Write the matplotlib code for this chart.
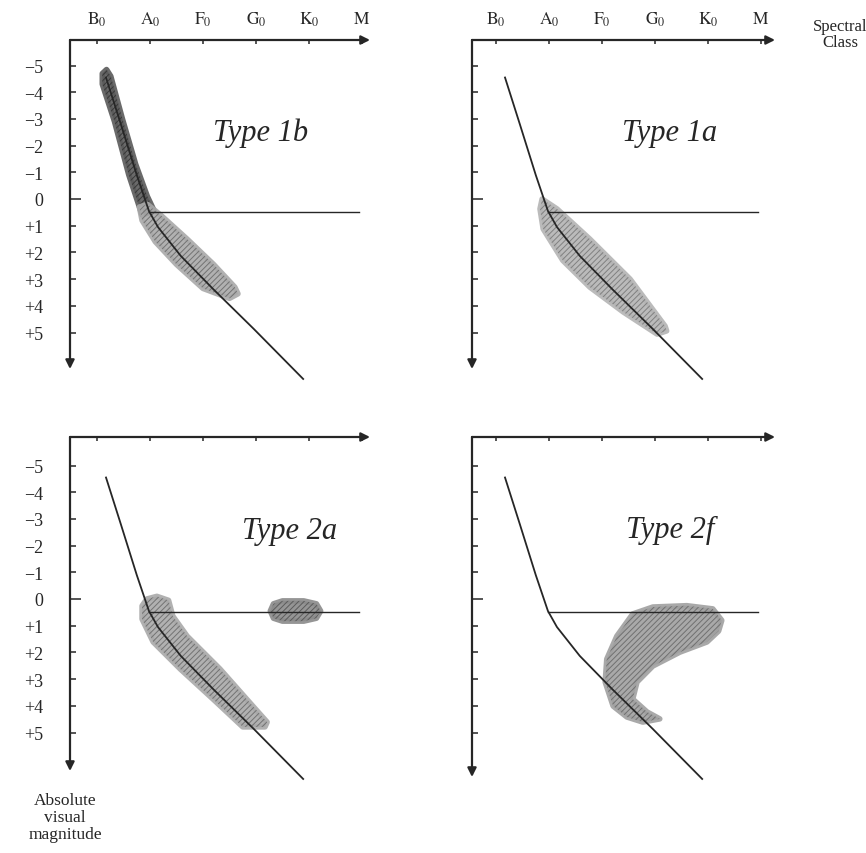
import matplotlib.pyplot as plt
from matplotlib.patches import Polygon

plt.rcParams['font.family'] = ['Liberation Serif', 'DejaVu Serif']
plt.rcParams['mathtext.fontset'] = 'stix'
plt.rcParams['hatch.linewidth'] = 0.7

INK = '#262626'

# spectral classes along the top axis
CLASS_POS = [0, 1, 2, 3, 4, 5]
CLASS_LABELS = [r'$\mathrm{B_0}$', r'$\mathrm{A_0}$', r'$\mathrm{F_0}$',
                r'$\mathrm{G_0}$', r'$\mathrm{K_0}$', r'$\mathrm{M}$']

# absolute visual magnitude
MAG_TICKS = [-5, -4, -3, -2, -1, 1, 2, 3, 4, 5]
MAG_LABELS = ['\u22125', '\u22124', '\u22123', '\u22122', '\u22121',
              '+1', '+2', '+3', '+4', '+5']

# main sequence and giant branch
MS_X = [0.17, 0.45, 0.75, 0.98, 1.15, 1.58, 2.19, 2.96, 3.89]
MS_M = [-4.55, -2.8, -0.9, 0.45, 1.05, 2.13, 3.37, 4.87, 6.74]
GIANT_X = [0.98, 4.95]
GIANT_M = [0.5, 0.5]

# type 1b: dense upper branch plus band below the knee
UPPER_1B_X = [0.26, 0.48, 0.73, 0.95, 1.08, 0.85, 0.60, 0.33, 0.10, 0.10, 0.18]
UPPER_1B_M = [-4.6, -3.0, -1.3, -0.1, 0.45, 0.60, -0.9, -2.9, -4.3, -4.7, -4.85]
BAND_1B_X = [0.95, 1.20, 1.70, 2.20, 2.60, 2.66, 2.50, 2.00, 1.50, 1.10, 0.85, 0.80]
BAND_1B_M = [0.20, 0.60, 1.50, 2.45, 3.30, 3.55, 3.72, 3.35, 2.45, 1.60, 0.80, 0.30]

# type 1a: band along the lower main sequence
BAND_1A_X = [0.87, 1.15, 1.77, 2.53, 3.19, 3.22, 3.04, 2.40, 1.77, 1.26, 0.89, 0.83]
BAND_1A_M = [0.00, 0.37, 1.50, 3.00, 4.76, 4.94, 5.06, 4.23, 3.30, 2.30, 1.12, 0.37]

# type 2a: band with a clump at the knee, and a clump on the giant branch
BAND_2A_X = [0.94, 1.13, 1.35, 1.43, 1.70, 2.32, 2.94, 3.21, 3.17, 2.75, 2.19, 1.57, 1.06, 0.85, 0.85]
BAND_2A_M = [0.00, -0.10, 0.05, 0.64, 1.39, 2.62, 4.01, 4.61, 4.79, 4.79, 3.75, 2.62, 1.61, 0.75, 0.26]
CLUMP_2A_X = [3.27, 3.33, 3.50, 3.90, 4.14, 4.22, 4.14, 3.90, 3.50, 3.33]
CLUMP_2A_M = [0.45, 0.18, 0.07, 0.07, 0.18, 0.45, 0.72, 0.83, 0.83, 0.72]

# type 2f: crescent between the branches
BANANA_2F_X = [2.58, 2.96, 3.60, 4.09, 4.26, 4.20, 3.98, 3.47, 2.96, 2.66, 2.58, 2.85, 3.09,
               2.77, 2.47, 2.21, 2.06, 2.09, 2.28]
BANANA_2F_M = [0.56, 0.30, 0.25, 0.37, 0.80, 1.20, 1.61, 1.99, 2.51, 3.11, 3.75, 4.23, 4.49,
               4.61, 4.42, 4.01, 3.11, 2.25, 1.39]

TITLES = ['Type 1b', 'Type 1a', 'Type 2a', 'Type 2f']
TITLE_X = [3.08, 3.28, 3.64, 3.28]
TITLE_M = [-2.5, -2.5, -2.55, -2.6]

W, H = 866, 854
PX_CLASS, PX_MAG = 53.0, 26.7

fig = plt.figure(figsize=(W / 100, H / 100), dpi=100)
fig.patch.set_facecolor('white')


def make_panel(left, top, right, bottom, b0, m0, xlabels, ylabels):
    ax = fig.add_axes([left / W, 1 - bottom / H, (right - left) / W, (bottom - top) / H])
    ax.set_xlim((left - b0) / PX_CLASS, (right - b0) / PX_CLASS)
    ax.set_ylim((bottom - m0) / PX_MAG, (top - m0) / PX_MAG)
    ax.patch.set_visible(False)
    for s in ax.spines.values():
        s.set_visible(False)
    arrow = dict(arrowstyle='-|>', color=INK, lw=1.6, mutation_scale=13,
                 shrinkA=0, shrinkB=0)
    ax.annotate('', xy=(1, 1), xytext=(0, 1), xycoords='axes fraction',
                arrowprops=arrow, annotation_clip=False)
    ax.annotate('', xy=(0, 0), xytext=(0, 1), xycoords='axes fraction',
                arrowprops=arrow, annotation_clip=False)

    ax.xaxis.tick_top()
    ax.set_xticks(CLASS_POS, CLASS_LABELS if xlabels else [])
    ax.tick_params(axis='x', direction='in', length=3, width=1.1, color=INK,
                   labelsize=12.5, pad=9, labelcolor=INK)
    ax.set_yticks(MAG_TICKS, MAG_LABELS if ylabels else [])
    ax.set_yticks([0], ['0'] if ylabels else [], minor=True)
    ax.tick_params(axis='y', which='both', direction='in', width=1.1, color=INK,
                   labelsize=13, pad=19, labelcolor=INK)
    ax.tick_params(axis='y', which='major', length=4)
    ax.tick_params(axis='y', which='minor', length=8)
    return ax


def shade(ax, xs, ms, face='#a9a9a9', hatch_color='#6c6c6c', hatch='//////', alpha=0.9):
    pts = list(zip(xs, ms))
    # soft rounded body, then the hatching on top
    ax.add_patch(Polygon(pts, closed=True, facecolor=face, edgecolor=face,
                         lw=4, joinstyle='round', alpha=alpha,
                         clip_on=False, zorder=2))
    ax.add_patch(Polygon(pts, closed=True, facecolor='none', edgecolor=hatch_color,
                         hatch=hatch, lw=0, alpha=alpha, clip_on=False, zorder=2))


def branches(ax):
    ax.plot(MS_X, MS_M, color=INK, lw=1.3, clip_on=False, zorder=3)
    ax.plot(GIANT_X, GIANT_M, color=INK, lw=1.0, clip_on=False, zorder=3)


panels = [
    make_panel(70, 41, 370, 370, 97, 200, True, True),
    make_panel(472, 41, 775, 370, 496, 200, True, False),
    make_panel(70, 438, 370, 772, 97, 600, False, True),
    make_panel(472, 438, 775, 778, 496, 600, False, False),
]

ax1b, ax1a, ax2a, ax2f = panels
shade(ax1b, UPPER_1B_X, UPPER_1B_M, face='#5a5a5a', hatch_color='#333333')
shade(ax1b, BAND_1B_X, BAND_1B_M)
shade(ax1a, BAND_1A_X, BAND_1A_M, face='#b4b4b4', hatch_color='#7a7a7a')
shade(ax2a, BAND_2A_X, BAND_2A_M)
shade(ax2a, CLUMP_2A_X, CLUMP_2A_M, face='#8a8a8a', hatch_color='#555555')
shade(ax2f, BANANA_2F_X, BANANA_2F_M, face='#a0a0a0', hatch_color='#6a6a6a')

for ax, title, tx, tm in zip(panels, TITLES, TITLE_X, TITLE_M):
    branches(ax)
    ax.text(tx, tm, title, ha='center', va='center', fontsize=22,
            style='italic', color=INK)

fig.text(840 / W, 1 - 35 / H, 'Spectral\nClass', ha='center', va='center',
         fontsize=12, color=INK, linespacing=1.05)
fig.text(65 / W, 1 - 818 / H, 'Absolute\nvisual\nmagnitude', ha='center',
         va='center', fontsize=12.5, color=INK, linespacing=1.1)

fig.savefig('out.png', dpi=100, facecolor='white')
